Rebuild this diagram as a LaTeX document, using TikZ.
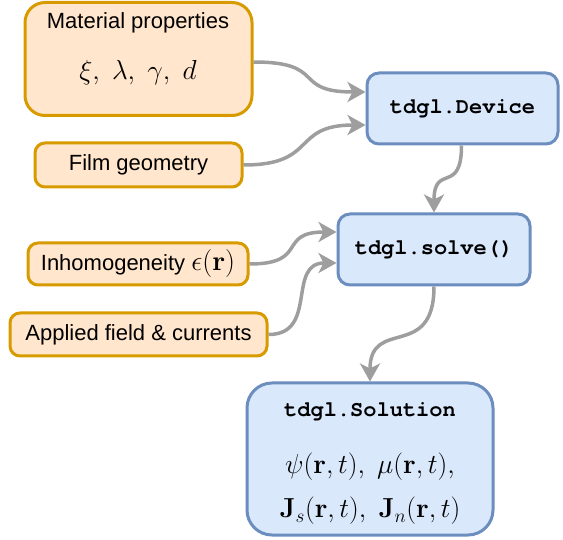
\RequirePackage{fix-cm}
\documentclass[tikz,border=0pt]{standalone}
\usepackage[no-math]{fontspec}
\setmainfont{Liberation Sans}
\setmonofont{TeX Gyre Cursor}
\usetikzlibrary{arrows.meta}
\definecolor{ofill}{HTML}{FFE6CC}
\definecolor{odraw}{HTML}{D79B00}
\definecolor{bfill}{HTML}{DAE8FC}
\definecolor{bdraw}{HTML}{6C8EBF}
\definecolor{conn}{HTML}{9E9E9E}
\tikzset{
  obox/.style={draw=odraw, fill=ofill, line width=3pt, rounded corners=10pt, inner sep=0pt},
  bbox/.style={draw=bdraw, fill=bfill, line width=3pt, rounded corners=12pt, inner sep=0pt},
  lbl/.style={font=\fontsize{22}{26}\selectfont, inner sep=0pt},
  code/.style={font=\fontsize{22}{26}\selectfont\ttfamily\bfseries, inner sep=0pt},
  mth/.style={font=\fontsize{27.5}{33}\selectfont, inner sep=0pt},
  conn/.style={draw=conn, line width=3.5pt, -{Stealth[length=18pt,width=20pt,inset=5pt]}},
}
\begin{document}
\begin{tikzpicture}[x=1pt,y=-1pt]
\useasboundingbox (0,0) rectangle (563,540);
% boxes
\node[obox, rounded corners=20pt, minimum width=227pt, minimum height=113pt] (mat) at (138.5,59) {};
\node[lbl] (matt) at (138,23) {Material properties};
\node[mth] (matm) at (138,73) {$\xi,\ \lambda,\ \gamma,\ d$};
\node[obox, minimum width=207pt, minimum height=44pt] (film) at (138.5,165) {};
\node[lbl] (filmt) at (138.5,165) {Film geometry};
\node[obox, minimum width=220pt, minimum height=42pt] (inh) at (138,264) {};
\node[lbl] (inht) at (138,264) {Inhomogeneity \fontsize{28}{34}\selectfont$\epsilon(\mathbf{r})$};
\node[obox, minimum width=257pt, minimum height=43pt] (app) at (138.5,334.5) {};
\node[lbl] (appt) at (138.5,334.5) {Applied field \& currents};
\node[bbox, minimum width=191pt, minimum height=71pt] (dev) at (462.5,108.5) {};
\node[code] (devt) at (462.5,108.5) {tdgl.Device};
\node[bbox, minimum width=192pt, minimum height=71pt] (sol) at (434,249.5) {};
\node[code] (solt) at (434,249.5) {tdgl.solve()};
\node[bbox, rounded corners=25pt, minimum width=246pt, minimum height=152pt] (res) at (370,459) {};
\node[code] (rest) at (370,412) {tdgl.Solution};
\node[mth] (resm1) at (370,467) {$\psi(\mathbf{r},t),\ \mu(\mathbf{r},t),$};
\node[mth] (resm2) at (370,511) {$\mathbf{J}_s(\mathbf{r},t),\ \mathbf{J}_n(\mathbf{r},t)$};
% connectors
\draw[conn] ([yshift=-3pt]mat.east) .. controls +(75,0) and +(-75,0) .. ([yshift=16.5pt]dev.west);
\draw[conn] (film.east) .. controls +(75,0) and +(-75,0) .. ([yshift=-16.5pt]dev.west);
\draw[conn] ([xshift=-1pt]dev.south) .. controls +(0,50) and +(0,-50) .. (sol.north);
\draw[conn] (inh.east) .. controls +(60,0) and +(-60,0) .. ([yshift=17.5pt]sol.west);
\draw[conn] (app.east) .. controls +(50,0) and +(-50,0) .. ([yshift=-13.5pt]sol.west);
\draw[conn] (sol.south) .. controls +(0,75) and +(0,-65) .. (res.north);
\end{tikzpicture}
\end{document}
